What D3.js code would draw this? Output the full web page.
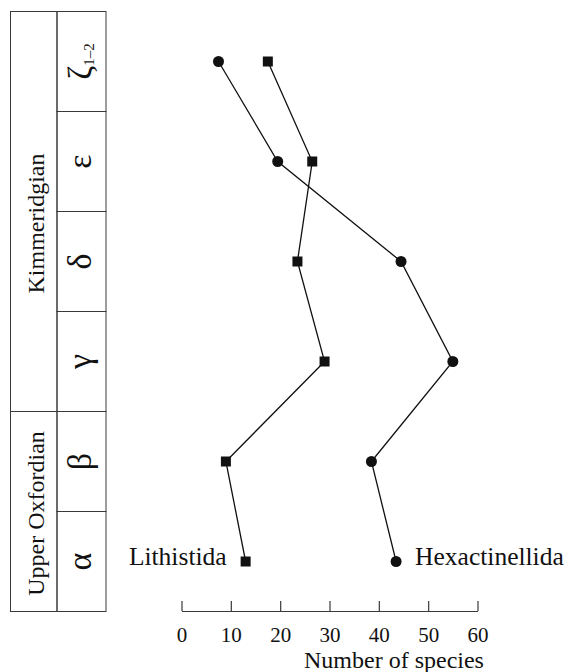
<!DOCTYPE html>
<html>
<head>
<meta charset="utf-8">
<script src="https://cdn.jsdelivr.net/npm/d3@7"></script>
<style>
  body { margin: 0; background: #fff; }
  svg { display: block; }
  text { font-family: "Liberation Serif", "Times New Roman", serif; fill: #111; }
</style>
</head>
<body>
<svg id="chart" width="568" height="672"></svg>
<script>
// Stratigraphic units, oldest first
const stages = ["α", "β", "γ", "δ", "ε", "ζ"];
const stageSubscripts = ["", "", "", "", "", "1–2"];

// Stages grouped into stratigraphic periods
const periodNames = ["Upper Oxfordian", "Kimmeridgian"];
const periodFirstStage = ["α", "γ"];
const periodLastStage = ["β", "ζ"];

// Species counts per stage (same order as stages)
const seriesNames = ["Lithistida", "Hexactinellida"];
const lithistida = [13, 9, 29, 23.5, 26.5, 17.5];
const hexactinellida = [43.5, 38.5, 55, 44.5, 19.5, 7.5];

// Axis
const xTicks = [0, 10, 20, 30, 40, 50, 60];
const xTitle = "Number of species";

// ---------------------------------------------------------------
const svg = d3.select("#chart");
const ink = "#111";
const rule = "#3a3a3a";

const y = d3.scaleBand().domain(stages).range([611.5, 11.5]);
const bw = y.bandwidth();
const yMid = s => y(s) + bw / 2;
const x = d3.scaleLinear().domain([0, 60]).range([181.5, 477.5]);

// Column geometry of the stratigraphic table
const outerLeft = 10.5, innerLeft = 57, innerRight = 106;

const table = svg.append("g");

// stage cells
table.selectAll("rect.stage")
  .data(stages)
  .join("rect")
  .attr("class", "stage")
  .attr("x", innerLeft)
  .attr("y", d => y(d))
  .attr("width", innerRight - innerLeft)
  .attr("height", bw)
  .attr("fill", "none")
  .attr("stroke", rule)
  .attr("stroke-width", 1);

// period cells
const periods = periodNames.map((name, i) => ({
  name,
  top: y(periodLastStage[i]),
  bottom: y(periodFirstStage[i]) + bw
}));
table.selectAll("rect.period")
  .data(periods)
  .join("rect")
  .attr("class", "period")
  .attr("x", outerLeft)
  .attr("y", d => d.top)
  .attr("width", innerLeft - outerLeft)
  .attr("height", d => d.bottom - d.top)
  .attr("fill", "none")
  .attr("stroke", rule)
  .attr("stroke-width", 1);

// period names, rotated
const periodNudge = { "Kimmeridgian": 12, "Upper Oxfordian": 2 };
table.selectAll("text.period")
  .data(periods)
  .join("text")
  .attr("class", "period")
  .attr("transform", d => `translate(${44},${(d.top + d.bottom) / 2 + (periodNudge[d.name] || 0)}) rotate(-90)`)
  .attr("text-anchor", "middle")
  .attr("font-size", 24)
  .text(d => d.name);

// stage symbols, rotated
const stageLabels = table.selectAll("text.stage")
  .data(stages.map((s, i) => ({ s, sub: stageSubscripts[i] })))
  .join("text")
  .attr("class", "stage")
  .attr("transform", d => `translate(${91},${yMid(d.s)}) rotate(-90)`)
  .attr("text-anchor", "middle")
  .attr("font-size", 34);
stageLabels.append("tspan").text(d => d.s);
stageLabels.filter(d => d.sub)
  .append("tspan")
  .attr("font-size", 15)
  .attr("dy", 3)
  .text(d => d.sub);

// ---------------------------------------------------------------
// series lines and markers
const series = [
  { name: seriesNames[0], values: lithistida, shape: d3.symbolSquare },
  { name: seriesNames[1], values: hexactinellida, shape: d3.symbolCircle }
];

const line = d3.line()
  .x(d => x(d.v))
  .y(d => yMid(d.s));

series.forEach(ser => {
  const pts = stages.map((s, i) => ({ s, v: ser.values[i] }));
  svg.append("path")
    .datum(pts)
    .attr("d", line)
    .attr("fill", "none")
    .attr("stroke", ink)
    .attr("stroke-width", 1.3);
  svg.append("g")
    .selectAll("path")
    .data(pts)
    .join("path")
    .attr("transform", d => `translate(${x(d.v)},${yMid(d.s)})`)
    .attr("d", d3.symbol().type(ser.shape).size(ser.shape === d3.symbolSquare ? 100 : 95))
    .attr("fill", ink);
});

// series names beside the lowest points
svg.append("text")
  .attr("x", x(lithistida[0]) - 19)
  .attr("y", yMid(stages[0]) + 3.5)
  .attr("text-anchor", "end")
  .attr("font-size", 25.5)
  .text(seriesNames[0]);
svg.append("text")
  .attr("x", x(hexactinellida[0]) + 19)
  .attr("y", yMid(stages[0]) + 3.5)
  .attr("text-anchor", "start")
  .attr("font-size", 25.5)
  .text(seriesNames[1]);

// ---------------------------------------------------------------
// x axis with upward ticks
const axis = svg.append("g")
  .attr("transform", "translate(0,611)")
  .call(d3.axisBottom(x).tickValues(xTicks).tickSizeInner(-10).tickSizeOuter(0).tickPadding(16));
axis.attr("font-family", null).attr("font-size", null);
axis.select(".domain").attr("stroke", rule).attr("stroke-width", 1.2);
axis.selectAll(".tick line").attr("stroke", rule).attr("stroke-width", 1.2);
axis.selectAll(".tick text").attr("font-size", 21).attr("fill", ink);

svg.append("text")
  .attr("x", 394)
  .attr("y", 668)
  .attr("text-anchor", "middle")
  .attr("font-size", 24)
  .text(xTitle);
</script>
</body>
</html>
